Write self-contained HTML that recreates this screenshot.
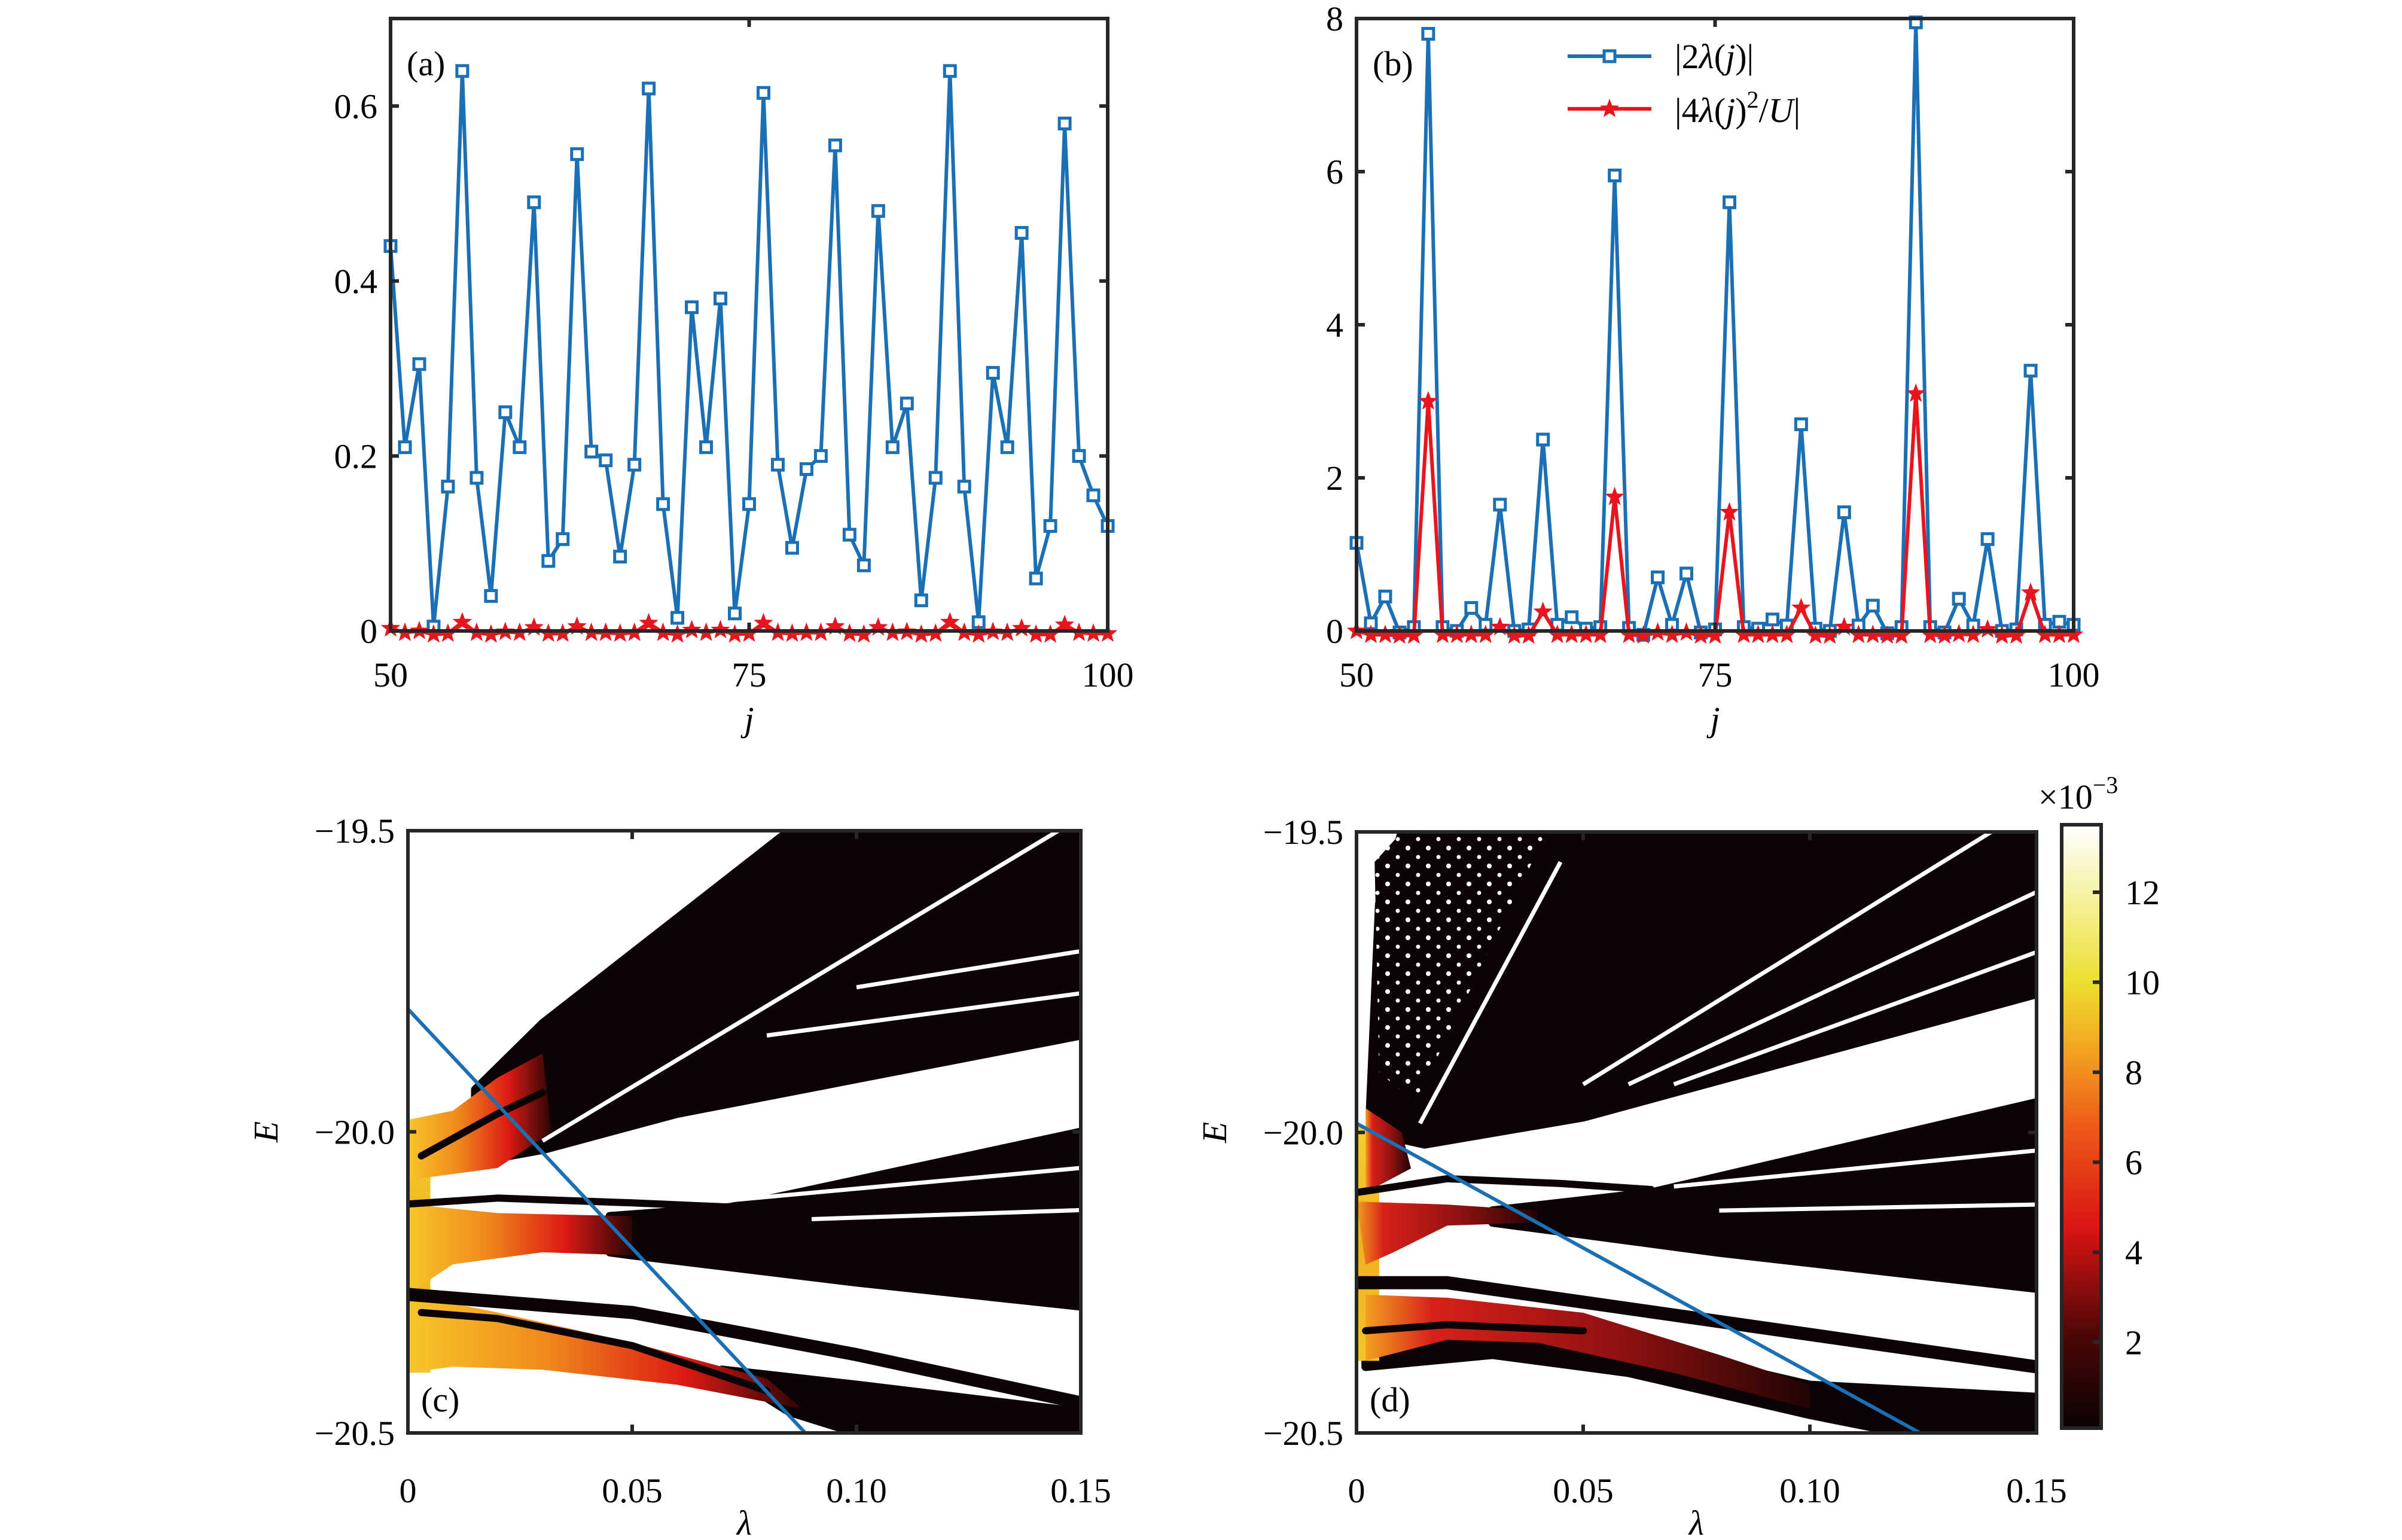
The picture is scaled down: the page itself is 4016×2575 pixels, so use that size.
<!DOCTYPE html>
<html><head><meta charset="utf-8"><style>
html,body{margin:0;padding:0;background:#fff}
svg{display:block}
text{font-family:"Liberation Serif",serif;fill:#000}
</style></head><body>
<svg id="fig" xmlns="http://www.w3.org/2000/svg" width="4016" height="2575" viewBox="0 0 4016 2575">
<defs>
<linearGradient id="gc" x1="0" y1="0" x2="1" y2="0"><stop offset="0" stop-color="#f7c62a"/><stop offset="0.35" stop-color="#f08a1c"/><stop offset="0.7" stop-color="#dc1a14"/><stop offset="1" stop-color="#2a0505"/></linearGradient>
<linearGradient id="gd" x1="0" y1="0" x2="1" y2="0"><stop offset="0" stop-color="#f2a020"/><stop offset="0.15" stop-color="#d8201a"/><stop offset="0.6" stop-color="#8a1010"/><stop offset="1" stop-color="#200404"/></linearGradient>
<linearGradient id="gy" x1="0" y1="0" x2="0" y2="1"><stop offset="0" stop-color="#f4d030"/><stop offset="0.5" stop-color="#f0b020"/><stop offset="1" stop-color="#f3c52a"/></linearGradient>
<linearGradient id="gbar" x1="0" y1="1" x2="0" y2="0"><stop offset="0" stop-color="#0a0203"/><stop offset="0.15" stop-color="#4a0606"/><stop offset="0.33" stop-color="#d81414"/><stop offset="0.5" stop-color="#ee5a18"/><stop offset="0.62" stop-color="#f3a020"/><stop offset="0.74" stop-color="#ece030"/><stop offset="0.88" stop-color="#f6f2a0"/><stop offset="1" stop-color="#ffffff"/></linearGradient>
<pattern id="dots" x="0" y="0" width="34" height="30" patternUnits="userSpaceOnUse"><rect width="34" height="30" fill="#0b0304"/><circle cx="8" cy="8" r="4" fill="#fff"/><circle cx="25" cy="23" r="3.5" fill="#fff"/></pattern>
<clipPath id="clipc"><rect x="682" y="1389" width="1125" height="1007"/></clipPath>
<clipPath id="clipd"><rect x="2268" y="1391" width="1137" height="1005"/></clipPath>
</defs>
<g id="root"></g>
</svg>
<script>
// ---------- data ----------
const jValues = [50,51,52,53,54,55,56,57,58,59,60,61,62,63,64,65,66,67,68,69,70,71,72,73,74,75,76,77,78,79,80,81,82,83,84,85,86,87,88,89,90,91,92,93,94,95,96,97,98,99,100];
const aBlue = [0.44,0.21,0.305,0.005,0.165,0.64,0.175,0.04,0.25,0.21,0.49,0.08,0.105,0.545,0.205,0.195,0.085,0.19,0.62,0.145,0.015,0.37,0.21,0.38,0.02,0.145,0.615,0.19,0.095,0.185,0.2,0.555,0.11,0.075,0.48,0.21,0.26,0.035,0.175,0.64,0.165,0.01,0.295,0.21,0.455,0.06,0.12,0.58,0.2,0.155,0.12];
const aRed = [0.003,-0.002,0.0,-0.004,-0.003,0.01,-0.002,-0.004,-0.001,-0.002,0.004,-0.003,-0.003,0.005,-0.002,-0.002,-0.003,-0.002,0.009,-0.002,-0.004,0.001,-0.002,0.001,-0.004,-0.003,0.009,-0.002,-0.003,-0.002,-0.002,0.005,-0.003,-0.004,0.004,-0.002,-0.001,-0.004,-0.003,0.01,-0.002,-0.004,-0.001,-0.002,0.003,-0.004,-0.004,0.007,-0.002,-0.003,-0.003];
const bBlue = [1.15,0.1,0.45,-0.02,0.05,7.8,0.05,0.0,0.3,0.08,1.65,0.0,0.02,2.5,0.08,0.18,0.03,0.05,5.95,0.04,-0.05,0.7,0.08,0.75,-0.02,0.02,5.6,0.05,0.03,0.15,0.07,2.7,0.03,0.0,1.55,0.07,0.33,-0.03,0.05,7.95,0.05,-0.02,0.42,0.07,1.2,0.0,0.02,3.4,0.08,0.12,0.08];
const bRed = [0.0,-0.05,-0.05,-0.06,-0.06,3.0,-0.05,-0.05,-0.05,-0.05,0.05,-0.06,-0.06,0.25,-0.05,-0.05,-0.05,-0.05,1.75,-0.05,-0.06,-0.02,-0.05,-0.02,-0.06,-0.06,1.55,-0.05,-0.05,-0.05,-0.05,0.3,-0.06,-0.06,0.05,-0.05,-0.05,-0.06,-0.06,3.1,-0.05,-0.06,-0.04,-0.05,0.02,-0.06,-0.06,0.5,-0.05,-0.05,-0.05];
const abXTicks = [50,75,100];
const aYTicks = [0,0.2,0.4,0.6];
const aYTickLabels = ["0","0.2","0.4","0.6"];
const bYTicks = [0,2,4,6,8];
const lamTicks = [0,0.05,0.10,0.15];
const lamTickLabels = ["0","0.05","0.10","0.15"];
const eTicks = [-19.5,-20.0,-20.5];
const eTickLabels = ["\u221219.5","\u221220.0","\u221220.5"];
const cbarTicks = [2,4,6,8,10,12];
const cbarRange = [0.09,13.5];
// spectra shapes (lambda, E)
const cBlackBands = [
 [[0.015,-19.93],[0.03,-19.82],[0.085,-19.5],[0.15,-19.5],[0.15,-19.84],[0.06,-19.97],[0.03,-20.03],[0.015,-20.05]],
 [[0.045,-20.14],[0.072,-20.125],[0.15,-20.0],[0.15,-20.29],[0.1,-20.25],[0.05,-20.205],[0.045,-20.2]],
 [[0.07,-20.395],[0.1,-20.42],[0.15,-20.465],[0.15,-20.5],[0.1,-20.5],[0.085,-20.465]]
];
const cColorBands = [
 [[0,-19.98],[0.01,-19.965],[0.02,-19.91],[0.03,-19.87],[0.032,-20.0],[0.02,-20.06],[0,-20.08]],
 [[0,-20.12],[0.02,-20.135],[0.05,-20.14],[0.05,-20.205],[0.03,-20.2],[0.01,-20.22],[0,-20.27]],
 [[0,-20.27],[0.02,-20.3],[0.05,-20.35],[0.08,-20.41],[0.088,-20.46],[0.06,-20.42],[0.03,-20.395],[0.01,-20.39],[0,-20.4]]
];
const cBlackLines = [
 [[0,-20.12],[0.02,-20.11],[0.05,-20.118],[0.072,-20.125]],
 [[0,-20.27],[0.05,-20.3],[0.1,-20.37],[0.15,-20.45]],
 [[0.003,-20.3],[0.02,-20.31],[0.05,-20.355],[0.08,-20.43]],
 [[0.003,-20.04],[0.02,-19.97],[0.03,-19.935]]
];
const cWhiteLines = [
 [[0.03,-20.015],[0.145,-19.5]],
 [[0.08,-19.84],[0.15,-19.77]],
 [[0.1,-19.76],[0.15,-19.7]],
 [[0.07,-20.115],[0.15,-20.06]],
 [[0.09,-20.145],[0.15,-20.13]]
];
const cBlueLine = [[0,-19.796],[0.0886,-20.5]];
const dBlackBands = [
 [[0.003,-19.96],[0.005,-19.62],[0.01,-19.5],[0.15,-19.5],[0.15,-19.77],[0.05,-19.975],[0.015,-20.02],[0.003,-20.0]],
 [[0.03,-20.13],[0.065,-20.1],[0.15,-19.95],[0.15,-20.26],[0.08,-20.2],[0.03,-20.15]],
 [[0.002,-20.33],[0.03,-20.32],[0.06,-20.35],[0.1,-20.42],[0.15,-20.44],[0.15,-20.5],[0.12,-20.5],[0.1,-20.47],[0.06,-20.4],[0.03,-20.37],[0.002,-20.39]]
];
const dColorBands = [
 [[0,-20.115],[0.02,-20.12],[0.04,-20.13],[0.04,-20.15],[0.02,-20.155],[0.008,-20.2],[0.002,-20.22]],
 [[0.002,-20.27],[0.02,-20.275],[0.05,-20.3],[0.08,-20.37],[0.1,-20.42],[0.1,-20.46],[0.07,-20.4],[0.04,-20.35],[0.02,-20.345],[0.002,-20.38]],
 [[0.002,-19.96],[0.01,-20.0],[0.012,-20.06],[0.002,-20.1]]
];
const dDottedRegion = [[0.004,-19.55],[0.01,-19.5],[0.042,-19.5],[0.013,-19.95],[0.005,-19.9]];
const dBlackLines = [
 [[0,-20.1],[0.02,-20.077],[0.045,-20.085],[0.065,-20.095]],
 [[0,-20.25],[0.02,-20.25],[0.15,-20.39]],
 [[0.002,-20.33],[0.02,-20.32],[0.05,-20.33]]
];
const dWhiteLines = [
 [[0.014,-19.985],[0.045,-19.55]],
 [[0.05,-19.92],[0.14,-19.5]],
 [[0.06,-19.92],[0.15,-19.6]],
 [[0.07,-19.92],[0.15,-19.7]],
 [[0.09,-19.91],[0.15,-19.81]],
 [[0.07,-20.09],[0.15,-20.03]],
 [[0.08,-20.13],[0.15,-20.12]]
];
const dBlueLine = [[0,-19.985],[0.1243,-20.5]];

// ---------- helpers ----------
const NS="http://www.w3.org/2000/svg";
const root=document.getElementById('root');
function mk(tag,attrs,parent){const e=document.createElementNS(NS,tag);for(const k in attrs)e.setAttribute(k,attrs[k]);(parent||root).appendChild(e);return e;}
function grp(name,parent){const g=mk('g',{},parent);
return g;}
const AX="#262626";
function lin(x0,x1,p0,p1){return v=>p0+(v-x0)/(x1-x0)*(p1-p0);}

function axesFrame(g,L,T,R,B){
 const r=mk('rect',{x:L,y:T,width:R-L,height:B-T,fill:'none',stroke:AX,'stroke-width':6},g);
 
 
}
function xTicks(g,ticks,labels,X,T,B,base){
 ticks.forEach((t,i)=>{const x=X(t);
  const a=mk('line',{x1:x,y1:B,x2:x,y2:B-14,stroke:AX,'stroke-width':6},g);
  
  
  const b=mk('line',{x1:x,y1:T,x2:x,y2:T+14,stroke:AX,'stroke-width':6},g);
  
  
  const tx=mk('text',{x:x,y:base,'font-size':58,'text-anchor':'middle'},g);tx.textContent=labels[i];
  
  
 });
}
function yTicks(g,ticks,labels,Y,L,R,right){
 ticks.forEach((t,i)=>{const y=Y(t);
  const a=mk('line',{x1:L,y1:y,x2:L+14,y2:y,stroke:AX,'stroke-width':6},g);
  
  
  const b=mk('line',{x1:R,y1:y,x2:R-14,y2:y,stroke:AX,'stroke-width':6},g);
  
  
  const tx=mk('text',{x:right,y:y+20,'font-size':58,'text-anchor':'end'},g);tx.textContent=labels[i];
  
  
 });
}
function label(g,txt,x,y,name,extra){const t=mk('text',Object.assign({x:x,y:y,'font-size':58},extra||{}),g);t.textContent=txt;
 
 return t;}
function poly(g,pts,X,Y){return pts.map(p=>X(p[0]).toFixed(1)+','+Y(p[1]).toFixed(1)).join(' ');}
function starPath(cx,cy,R){let d='';for(let k=0;k<10;k++){const r=k%2?R*0.42:R;const a=-Math.PI/2+k*Math.PI/5;d+=(k?'L':'M')+(cx+r*Math.cos(a)).toFixed(1)+','+(cy+r*Math.sin(a)).toFixed(1);}return d+'Z';}
const BLUE="#1a6fb5",RED="#e8141e";

function seriesPanel(name,L,T,R,B,yMax,blue,red,yt,ytl,tag){
 const g=grp(name);
 const X=lin(50,100,L,R),Y=lin(0,yMax,B,T);
 const bl=mk('polyline',{points:jValues.map((j,i)=>X(j)+','+Y(blue[i])).join(' '),fill:'none',stroke:BLUE,'stroke-width':6,'stroke-linejoin':'round'},g);
 
 
 jValues.forEach((j,i)=>{const s=mk('rect',{x:X(j)-9,y:Y(blue[i])-9,width:18,height:18,fill:'#fff',stroke:BLUE,'stroke-width':5},g);
  
  });
 const rl=mk('polyline',{points:jValues.map((j,i)=>X(j)+','+Y(red[i])).join(' '),fill:'none',stroke:RED,'stroke-width':6,'stroke-linejoin':'round'},g);
 
 
 jValues.forEach((j,i)=>{const s=mk('path',{d:starPath(X(j),Y(red[i]),17),fill:RED},g);
  
  });
 axesFrame(g,L,T,R,B);
 xTicks(g,abXTicks,abXTicks.map(String),X,T,B,1148);
 yTicks(g,yt,ytl,Y,L,R,L-22);
 label(g,'j',(L+R)/2,1222,'x-axis-title',{'font-style':'italic','text-anchor':'middle'});
 label(g,tag,L+27,126,'panel-label');
 return {g,X,Y};
}
seriesPanel('panel-a',653,31,1852,1055,0.7,aBlue,aRed,aYTicks,aYTickLabels,'(a)');
const pb=seriesPanel('panel-b',2268,31,3467,1055,8,bBlue,bRed,bYTicks,bYTicks.map(String),'(b)');
// legend
(function(){const g=grp('legend',pb.g);
 const l1=mk('line',{x1:2621,y1:94,x2:2761,y2:94,stroke:BLUE,'stroke-width':6},g);
 
 
 const m1=mk('rect',{x:2682,y:85,width:18,height:18,fill:'#fff',stroke:BLUE,'stroke-width':5},g);
 
 
 const t1=mk('text',{x:2800,y:114,'font-size':58},g);
 t1.innerHTML='|2<tspan font-style="italic">λ</tspan>(<tspan font-style="italic">j</tspan>)|';
 
 
 const l2=mk('line',{x1:2621,y1:182,x2:2761,y2:182,stroke:RED,'stroke-width':6},g);
 
 
 const m2=mk('path',{d:starPath(2691,182,17),fill:RED},g);
 
 
 const t2=mk('text',{x:2800,y:204,'font-size':58},g);
 t2.innerHTML='|4<tspan font-style="italic">λ</tspan>(<tspan font-style="italic">j</tspan>)<tspan font-size="40" dy="-24">2</tspan><tspan dy="24">/</tspan><tspan font-style="italic">U</tspan>|';
 
 
})();

function spectrumPanel(name,L,T,R,B,clip,blackBands,colorBands,grad,blackLines,whiteLines,blueLine,tag,yStrip,dotted){
 const g=grp(name);
 const X=lin(0,0.15,L,R),Y=lin(-19.5,-20.5,T,B);
 const inner=mk('g',{'clip-path':'url(#'+clip+')'},g);
 
 
 blackBands.forEach(b=>{const p=mk('polygon',{points:poly(g,b,X,Y),fill:'#0b0304',stroke:'#0b0304','stroke-width':14,'stroke-linejoin':'round'},inner);
  
  });
 if(dotted){const p=mk('polygon',{points:poly(g,dotted,X,Y),fill:'url(#dots)'},inner);
  
  }
 const ys=mk('rect',{x:X(0)-4,y:Y(yStrip[0]),width:X(0.005)-X(0)+4,height:Y(yStrip[1])-Y(yStrip[0]),fill:'url(#gy)'},inner);
 
 
 colorBands.forEach(b=>{const p=mk('polygon',{points:poly(g,b,X,Y),fill:'url(#'+grad+')',stroke:'none'},inner);
  
  });
 blackLines.forEach((b,i)=>{const p=mk('polyline',{points:poly(g,b,X,Y),fill:'none',stroke:'#0b0304','stroke-width':i==1?22:12,'stroke-linecap':'round','stroke-linejoin':'round'},inner);
  
  });
 whiteLines.forEach(b=>{const p=mk('polyline',{points:poly(g,b,X,Y),fill:'none',stroke:'#fff','stroke-width':7},inner);
  
  });
 const bl=mk('polyline',{points:poly(g,blueLine,X,Y),fill:'none',stroke:BLUE,'stroke-width':6},inner);
 
 
 axesFrame(g,L,T,R,B);
 xTicks(g,lamTicks,lamTickLabels,X,T,B,2512);
 yTicks(g,eTicks,eTickLabels,Y,L,R,L-22);
 label(g,'λ',(L+R)/2,2566,'x-axis-title',{'font-style':'italic','text-anchor':'middle'});
 const ey=(T+B)/2;
 label(g,'E',L-218,ey,'y-axis-title',{'font-style':'italic','text-anchor':'middle',transform:'rotate(-90 '+(L-218)+' '+ey+')'});
 label(g,tag,L+22,2360,'panel-label');
}
spectrumPanel('panel-c',682,1389,1807,2396,'clipc',cBlackBands,cColorBands,'gc',cBlackLines,cWhiteLines,cBlueLine,'(c)',[-19.98,-20.4],null);
spectrumPanel('panel-d',2268,1391,3405,2396,'clipd',dBlackBands,dColorBands,'gd',dBlackLines,dWhiteLines,dBlueLine,'(d)',[-19.99,-20.38],dDottedRegion);

// colorbar
(function(){const g=grp('colorbar');
 const L=3447,R=3513,T=1379,B=2388;const Y=lin(cbarRange[0],cbarRange[1],B,T);
 const r=mk('rect',{x:L,y:T,width:R-L,height:B-T,fill:'url(#gbar)',stroke:AX,'stroke-width':6},g);
 
 
 cbarTicks.forEach(t=>{const y=Y(t);
  const a=mk('line',{x1:R,y1:y,x2:R-14,y2:y,stroke:AX,'stroke-width':6},g);
  
  
  const tx=mk('text',{x:R+40,y:y+20,'font-size':58},g);tx.textContent=String(t);
  
  
 });
 const s=mk('text',{x:3408,y:1352,'font-size':58},g);
 s.innerHTML='×10<tspan font-size="40" dy="-26">−3</tspan>';
 
 
})();
</script>
</body></html>
